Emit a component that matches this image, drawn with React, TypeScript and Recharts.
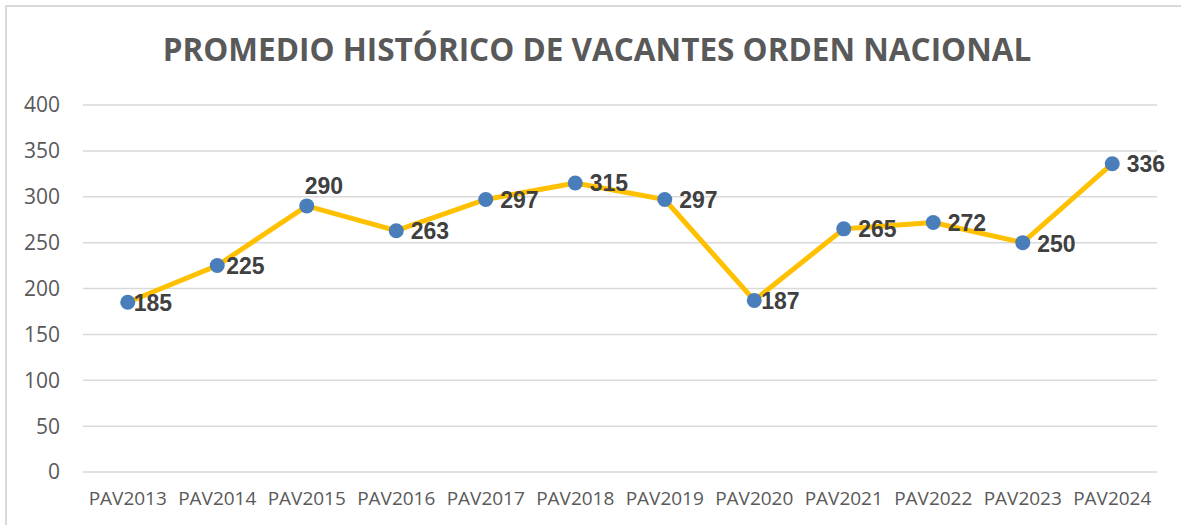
import React from 'react';
import { LineChart, Line, XAxis, YAxis, CartesianGrid } from 'recharts';

const categories = ['PAV2013', 'PAV2014', 'PAV2015', 'PAV2016', 'PAV2017', 'PAV2018', 'PAV2019', 'PAV2020', 'PAV2021', 'PAV2022', 'PAV2023', 'PAV2024'];
const values = [185, 225, 290, 263, 297, 315, 297, 187, 265, 272, 250, 336];
const yTicks = [0, 50, 100, 150, 200, 250, 300, 350, 400];
const labelDx = [6, 9, -2, 14.5, 14.5, 14.5, 14.5, 7, 14.5, 14.5, 14.5, 14.5];
const labelDy = [0, 0, -20, 0.5, 0, 0, 0, 0, 0, 0, 1, 0];
const title = 'PROMEDIO HISTÓRICO DE VACANTES ORDEN NACIONAL';

const data = categories.map((c, i) => ({ name: c, value: values[i] }));

const renderLabel = (props: any) => {
  const { x, y, value, index } = props;
  return (
    <text
      key={`l-${index}`}
      x={x + labelDx[index]}
      y={y + labelDy[index]}
      dy="0.36em"
      textAnchor="start"
      fontFamily="'Liberation Sans', Arial, sans-serif"
      fontWeight={700}
      fontSize={23}
      fill="#404040"
    >
      {value}
    </text>
  );
};

const renderDot = (props: any) => {
  const { cx, cy, index } = props;
  return <circle key={`d-${index}`} cx={cx} cy={cy} r={7.5} fill="#4A7EBB" />;
};

export default function App() {
  return (
    <div style={{ position: 'fixed', left: 0, top: 0, width: 1181, height: 525, overflow: 'hidden', background: '#fff' }}>
      <div style={{ position: 'absolute', left: 5, top: 5, width: 1300, height: 700, border: '2px solid #d9d9d9', boxSizing: 'border-box' }} />
      <svg style={{ position: 'absolute', left: 0, top: 0 }} width={1181} height={100}>
        <text x={597} y={61} textAnchor="middle" fontFamily="'Open Sans', sans-serif" fontWeight={700} fontSize={31.5} fill="#595959">
          {title}
        </text>
      </svg>
      <div style={{ position: 'absolute', left: 0, top: 0 }}>
        <LineChart width={1181} height={525} data={data} margin={{ top: 105, right: 24, bottom: 0, left: 0 }}>
          <CartesianGrid vertical={false} stroke="#d9d9d9" strokeWidth={1.5} />
          <XAxis
            dataKey="name"
            height={53}
            tickLine={false}
            axisLine={false}
            tickSize={0}
            tickMargin={20}
            padding={{ left: 44.75, right: 44.75 }}
            interval={0}
            tick={{ fontFamily: "'Open Sans', sans-serif", fontSize: 19, fill: '#595959' }}
          />
          <YAxis
            width={83}
            domain={[0, 400]}
            ticks={yTicks}
            tickLine={false}
            axisLine={false}
            tickSize={0}
            tickMargin={23}
            tick={{ fontFamily: "'Open Sans', sans-serif", fontSize: 21, fill: '#595959' }}
          />
          <Line
            type="linear"
            dataKey="value"
            stroke="#FFC000"
            strokeWidth={5}
            dot={renderDot}
            activeDot={false}
            label={renderLabel}
            isAnimationActive={false}
          />
        </LineChart>
      </div>
    </div>
  );
}
